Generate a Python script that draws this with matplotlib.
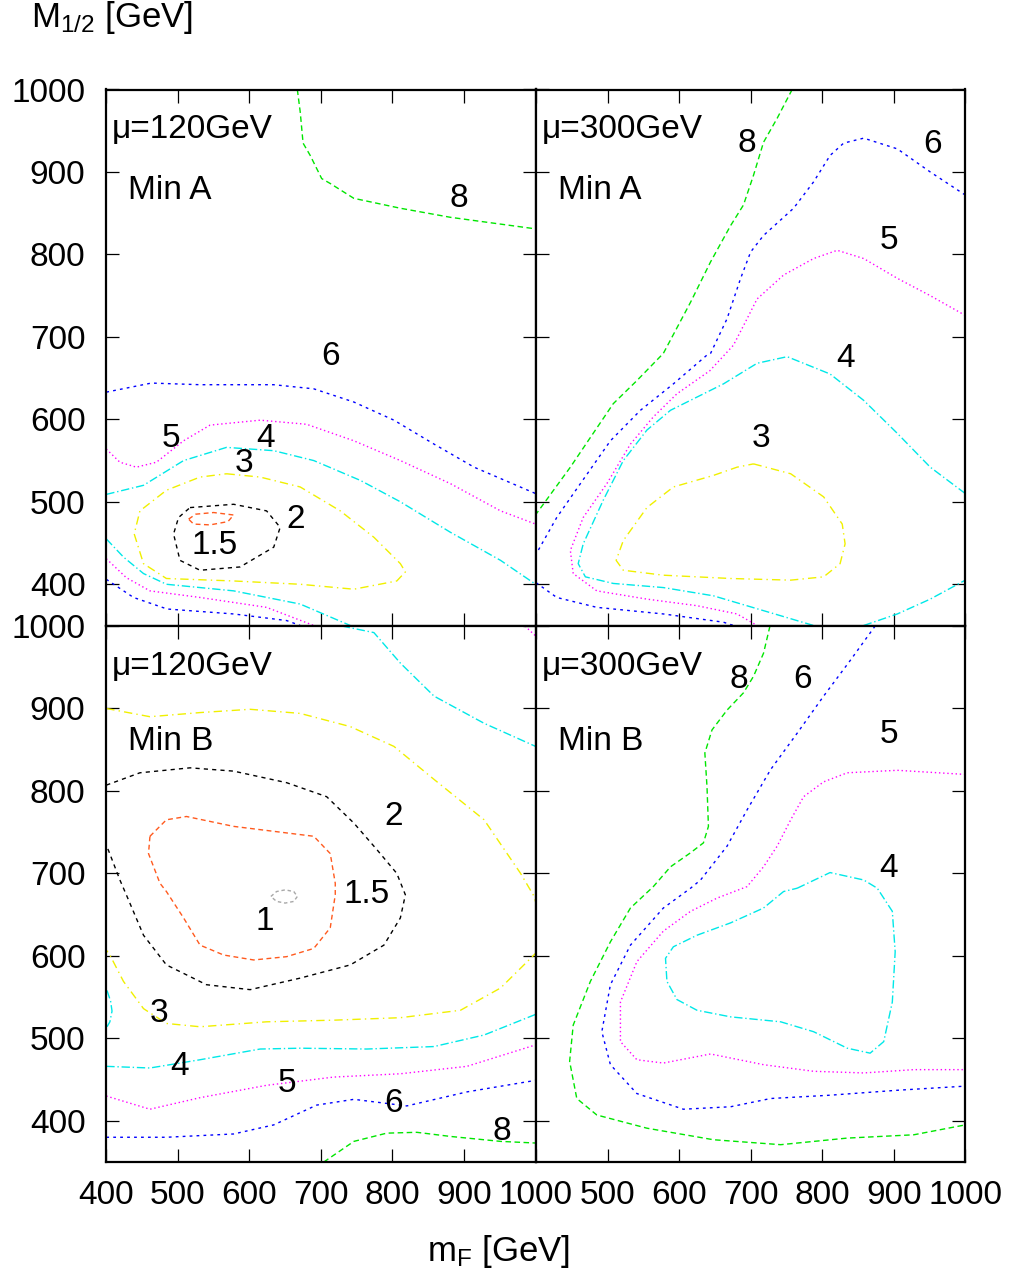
import matplotlib
matplotlib.use("Agg")
import matplotlib.pyplot as plt

plt.rcParams["font.family"] = ["Liberation Sans", "DejaVu Sans"]
plt.rcParams["mathtext.fontset"] = "custom"
plt.rcParams["mathtext.rm"] = "Liberation Sans"
plt.rcParams["mathtext.it"] = "Liberation Sans"
plt.rcParams["mathtext.bf"] = "Liberation Sans:bold"

# ---------------- axis ticks ----------------
X_TICKS = [400, 500, 600, 700, 800, 900, 1000]
Y_TICKS = [400, 500, 600, 700, 800, 900, 1000]
X_LABELS_LEFT = ["400", "500", "600", "700", "800", "900", "1000"]
X_LABELS_RIGHT = ["", "500", "600", "700", "800", "900", "1000"]
Y_LABELS = ["400", "500", "600", "700", "800", "900", "1000"]

# ---------------- mu = 120 GeV, Min A ----------------
A120_L8_X = [667, 671, 675, 685, 701, 713, 746, 811, 881, 1000]
A120_L8_Y = [1000, 973, 935, 920, 892, 886, 868, 856, 845, 831]
A120_L6U_X = [400, 463, 531, 634, 690, 746, 802, 858, 914, 1000]
A120_L6U_Y = [633, 644, 642, 642, 637, 621, 599, 570, 542, 510]
A120_L6L_X = [400, 438, 485, 578, 652, 671]
A120_L6L_Y = [406, 384, 370, 364, 356, 350]
A120_L5U_X = [400, 419, 442, 470, 508, 545, 615, 680, 746, 811, 881, 951, 1000]
A120_L5U_Y = [564, 548, 542, 548, 574, 593, 599, 594, 574, 550, 522, 489, 473]
A120_L5L_X = [400, 428, 461, 531, 624, 690]
A120_L5L_Y = [431, 408, 392, 384, 372, 350]
A120_L4U_X = [400, 452, 508, 568, 634, 690, 755, 811, 881, 951, 1000]
A120_L4U_Y = [509, 520, 550, 566, 562, 550, 526, 500, 463, 429, 400]
A120_L4L_X = [400, 424, 452, 484, 578, 671, 741]
A120_L4L_Y = [455, 433, 413, 400, 392, 376, 350]
A120_L3_X = [568, 615, 671, 727, 774, 811, 818, 806, 746, 671, 578, 484, 452, 439, 447, 484, 531, 568]
A120_L3_Y = [534, 530, 518, 489, 457, 425, 415, 404, 394, 400, 404, 407, 425, 461, 489, 514, 530, 534]
A120_L2_X = [517, 578, 624, 643, 634, 587, 531, 503, 494, 501, 517]
A120_L2_Y = [493, 497, 489, 469, 445, 421, 417, 429, 461, 481, 493]
A120_L15_X = [515, 525, 550, 578, 570, 545, 522, 515]
A120_L15_Y = [479, 485, 487, 484, 476, 472, 473, 479]

# ---------------- mu = 300 GeV, Min A ----------------
A300_L8_X = [758, 737, 718, 704, 690, 672, 644, 616, 578, 541, 508, 476, 448, 406, 400]
A300_L8_Y = [1000, 965, 936, 896, 860, 835, 791, 742, 680, 647, 619, 578, 542, 492, 485]
A300_L6U_X = [1000, 951, 905, 858, 830, 811, 788, 760, 718, 700, 686, 667, 644, 639, 592, 546, 504, 462, 429, 403, 400]
A300_L6U_Y = [872, 900, 928, 941, 935, 920, 888, 856, 823, 803, 771, 722, 680, 678, 643, 611, 574, 522, 481, 441, 437]
A300_L6L_X = [400, 429, 485, 578, 662, 676]
A300_L6L_Y = [402, 384, 372, 364, 354, 350]
A300_L5_X = [1000, 951, 905, 858, 821, 788, 746, 709, 695, 676, 643, 597, 564, 532, 499, 466, 448, 452, 485, 555, 625, 681, 709]
A300_L5_Y = [726, 750, 771, 795, 805, 795, 775, 746, 722, 690, 659, 631, 603, 570, 522, 481, 441, 413, 392, 382, 374, 364, 350]
A300_L4A_X = [1000, 951, 905, 858, 811, 751, 709, 662, 625, 588, 555, 522, 494, 466, 459, 469, 508, 578, 648, 718, 788]
A300_L4A_Y = [510, 542, 583, 623, 655, 676, 668, 643, 627, 611, 587, 550, 502, 449, 425, 409, 401, 396, 386, 368, 350]
A300_L4B_X = [858, 905, 951, 1000]
A300_L4B_Y = [350, 364, 382, 405]
A300_L3_X = [704, 756, 802, 828, 832, 825, 802, 756, 672, 578, 522, 512, 522, 555, 592, 648, 681, 704]
A300_L3_Y = [546, 534, 506, 473, 449, 425, 409, 405, 407, 411, 417, 429, 453, 493, 518, 532, 542, 546]

# ---------------- mu = 120 GeV, Min B ----------------
B120_L4U_X = [729, 774, 811, 858, 928, 1000]
B120_L4U_Y = [1000, 992, 955, 915, 882, 854]
B120_L5U_X = [985, 1000]
B120_L5U_Y = [1000, 988]
B120_L3_X = [400, 461, 531, 601, 671, 741, 802, 858, 928, 979, 998, 1008, 1008, 993, 951, 895, 811, 718, 624, 531, 484, 452, 424, 405, 400]
B120_L3_Y = [900, 890, 895, 899, 894, 878, 854, 814, 765, 700, 672, 640, 610, 597, 561, 534, 525, 522, 520, 514, 518, 536, 569, 601, 607]
B120_L4E_X = [401, 406, 408, 405, 401]
B120_L4E_Y = [558, 545, 533, 520, 514]
B120_L2_X = [400, 447, 517, 578, 652, 708, 746, 778, 806, 818, 811, 788, 741, 671, 601, 540, 484, 452, 428, 419, 403, 400]
B120_L2_Y = [807, 822, 828, 824, 810, 793, 761, 729, 700, 674, 646, 613, 589, 573, 559, 565, 589, 625, 674, 692, 728, 733]
B120_L15_X = [461, 484, 512, 578, 634, 690, 713, 720, 720, 713, 690, 652, 606, 564, 531, 508, 484, 475, 459, 461]
B120_L15_Y = [745, 765, 769, 757, 751, 745, 724, 688, 674, 634, 609, 599, 595, 601, 613, 646, 678, 688, 724, 745]
B120_L1_X = [630, 638, 650, 662, 667, 662, 650, 638, 630]
B120_L1_Y = [672, 678, 680, 678, 672, 666, 664, 666, 672]
B120_L4L_X = [400, 461, 531, 615, 671, 764, 858, 928, 1000]
B120_L4L_Y = [466, 464, 474, 487, 488, 487, 490, 504, 529]
B120_L5_X = [400, 461, 531, 624, 718, 811, 904, 1000]
B120_L5_Y = [430, 414, 428, 443, 453, 457, 466, 492]
B120_L6_X = [400, 484, 578, 634, 694, 746, 820, 904, 1000]
B120_L6_Y = [380, 380, 384, 395, 419, 426, 418, 435, 449]
B120_L8_X = [704, 746, 792, 834, 881, 951, 1000]
B120_L8_Y = [350, 375, 385, 386, 381, 375, 373]

# ---------------- mu = 300 GeV, Min B ----------------
B300_L8_X = [727, 718, 704, 690, 667, 646, 636, 639, 641, 634, 616, 588, 564, 532, 504, 476, 452, 447, 457, 485, 555, 648, 742, 835, 928, 1000]
B300_L8_Y = [1000, 967, 939, 919, 898, 874, 846, 805, 757, 737, 725, 708, 684, 658, 617, 569, 516, 472, 427, 407, 391, 377, 371, 379, 383, 395]
B300_L6_X = [874, 839, 802, 765, 728, 695, 667, 630, 616, 578, 532, 504, 492, 504, 541, 606, 672, 728, 811, 905, 1000]
B300_L6_Y = [1000, 958, 915, 870, 826, 777, 733, 692, 682, 658, 613, 565, 508, 468, 433, 414, 417, 427, 431, 437, 442]
B300_L5_X = [1000, 905, 835, 802, 774, 756, 737, 718, 695, 653, 616, 578, 541, 518, 518, 541, 578, 644, 718, 788, 858, 928, 1000]
B300_L5_Y = [820, 825, 822, 811, 793, 765, 733, 708, 684, 670, 654, 630, 593, 544, 496, 474, 470, 481, 468, 460, 458, 462, 462]
B300_L4_X = [765, 811, 858, 877, 898, 902, 898, 886, 867, 835, 788, 742, 672, 625, 597, 583, 581, 592, 625, 672, 718, 746, 765]
B300_L4_Y = [682, 701, 692, 682, 654, 605, 544, 496, 482, 488, 508, 520, 526, 534, 547, 569, 597, 611, 625, 640, 658, 678, 682]

# contour value -> (colour, dash pattern)
STYLE = {
    "1":   ("#a8a8a8", (2.5, 2.0)),
    "1.5": ("#ff5a1e", (3.5, 2.5)),
    "2":   ("#000000", (3.0, 3.0)),
    "3":   ("#f0f000", (6.0, 3.0, 1.0, 3.0)),
    "4":   ("#00e8e8", (6.0, 2.0, 1.0, 2.0)),
    "5":   ("#ff00ff", (1.0, 2.0)),
    "6":   ("#0000ff", (2.0, 3.0)),
    "8":   ("#00e600", (4.0, 2.5)),
}

PANELS = [
    dict(key="A120", mu="\u03bc=120GeV", minlab="Min A", row=0, col=0,
         curves=[("8", A120_L8_X, A120_L8_Y), ("6", A120_L6U_X, A120_L6U_Y),
                 ("6", A120_L6L_X, A120_L6L_Y), ("5", A120_L5U_X, A120_L5U_Y),
                 ("5", A120_L5L_X, A120_L5L_Y), ("4", A120_L4U_X, A120_L4U_Y),
                 ("4", A120_L4L_X, A120_L4L_Y), ("3", A120_L3_X, A120_L3_Y),
                 ("2", A120_L2_X, A120_L2_Y), ("1.5", A120_L15_X, A120_L15_Y)],
         labels=[("8", 893, 868), ("6", 713, 676), ("5", 490, 577), ("4", 622, 577),
                 ("3", 592, 546), ("2", 664, 479), ("1.5", 552, 447)]),
    dict(key="A300", mu="\u03bc=300GeV", minlab="Min A", row=0, col=1,
         curves=[("8", A300_L8_X, A300_L8_Y), ("6", A300_L6U_X, A300_L6U_Y),
                 ("6", A300_L6L_X, A300_L6L_Y), ("5", A300_L5_X, A300_L5_Y),
                 ("4", A300_L4A_X, A300_L4A_Y), ("4", A300_L4B_X, A300_L4B_Y),
                 ("3", A300_L3_X, A300_L3_Y)],
         labels=[("8", 695, 935), ("6", 954, 933), ("5", 893, 817), ("4", 832, 674),
                 ("3", 714, 577)]),
    dict(key="B120", mu="\u03bc=120GeV", minlab="Min B", row=1, col=0,
         curves=[("4", B120_L4U_X, B120_L4U_Y), ("5", B120_L5U_X, B120_L5U_Y),
                 ("3", B120_L3_X, B120_L3_Y), ("4", B120_L4E_X, B120_L4E_Y),
                 ("2", B120_L2_X, B120_L2_Y), ("1.5", B120_L15_X, B120_L15_Y),
                 ("1", B120_L1_X, B120_L1_Y), ("4", B120_L4L_X, B120_L4L_Y),
                 ("5", B120_L5_X, B120_L5_Y), ("6", B120_L6_X, B120_L6_Y),
                 ("8", B120_L8_X, B120_L8_Y)],
         labels=[("3", 473, 530), ("4", 503, 466), ("5", 652, 445), ("6", 802, 421),
                 ("8", 953, 387), ("2", 802, 769), ("1.5", 764, 674), ("1", 622, 642)]),
    dict(key="B300", mu="\u03bc=300GeV", minlab="Min B", row=1, col=1,
         curves=[("8", B300_L8_X, B300_L8_Y), ("6", B300_L6_X, B300_L6_Y),
                 ("5", B300_L5_X, B300_L5_Y), ("4", B300_L4_X, B300_L4_Y)],
         labels=[("8", 683, 935), ("6", 773, 935), ("5", 893, 868), ("4", 893, 706)]),
]

W, H = 1011, 1278
fig = plt.figure(figsize=(W / 100, H / 100), dpi=100)

LEFTS = [106.3 / W, 536.0 / W]
WIDTH = 429.3 / W
BOTTOMS = [1 - 625.5 / H, 1 - 1162.0 / H]
HEIGHT = 536.0 / H
FS = 24

for p in PANELS:
    ax = fig.add_axes([LEFTS[p["col"]], BOTTOMS[p["row"]], WIDTH, HEIGHT])
    ax.set_xlim(400, 1000)
    ax.set_ylim(350, 1000)
    for lvl, xs, ys in p["curves"]:
        color, dash = STYLE[lvl]
        ax.plot(xs, ys, color=color, lw=1.0, dashes=dash, solid_capstyle="butt")
    for txt, x, y in p["labels"]:
        ax.text(x, y, txt, fontsize=FS, ha="center", va="center")
    ax.text(408, 951, p["mu"], fontsize=FS, ha="left", va="center")
    ax.text(431, 878 if p["row"] == 0 else 860, p["minlab"], fontsize=FS,
            ha="left", va="center")

    ax.set_xticks(X_TICKS)
    ax.set_yticks(Y_TICKS)
    ax.tick_params(direction="in", length=9.5, width=0.9, top=True, right=True,
                   labelsize=FS, pad=13)
    ax.tick_params(axis="y", pad=15)
    if p["row"] == 1:
        ax.set_xticklabels(X_LABELS_LEFT if p["col"] == 0 else X_LABELS_RIGHT)
    else:
        ax.set_xticklabels([])
    if p["col"] == 0:
        ax.set_yticklabels(Y_LABELS)
    else:
        ax.set_yticklabels([])
    for s in ax.spines.values():
        s.set_linewidth(1.6)

fig.text(31 / W, 1 - 18 / H, "M$_{1/2}$ [GeV]", fontsize=25, ha="left", va="center")
fig.text(499 / W, 1 - 1252 / H, "m$_{F}$ [GeV]", fontsize=25, ha="center", va="center")

fig.savefig("out.png", dpi=100)
